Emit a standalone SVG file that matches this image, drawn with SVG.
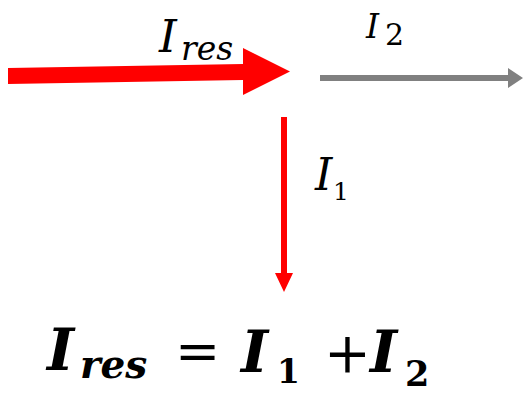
<svg xmlns="http://www.w3.org/2000/svg" width="524" height="394" viewBox="0 0 524 394">
<style>
.lbl{font-family:"DejaVu Serif","Liberation Serif",serif;font-style:italic;fill:#000}
.eq{font-family:"DejaVu Serif","Liberation Serif",serif;font-style:italic;font-weight:bold;fill:#000}
.op{font-family:"DejaVu Serif","Liberation Serif",serif;fill:#000}
.num{font-family:"DejaVu Serif","Liberation Serif",serif;fill:#000}
.numb{font-family:"DejaVu Serif","Liberation Serif",serif;font-weight:bold;fill:#000}
</style>
<rect width="524" height="394" fill="#fff"/>
<g id="connectors">
<polygon id="i-res-arrow" points="8,68 243,64 243,48 290,71.5 243,95 243,80 8,84" fill="#ff0000"/>
<polygon id="i2-arrow" points="320,75 508,75 508,68 523,78 508,88 508,81 320,81" fill="#808080"/>
<polygon id="i1-arrow" points="281,117 287,117 287,273 293,273 284,292 275,273 281,273" fill="#ff0000"/>
</g>
<g id="label-ires">
<text class="lbl" x="159" y="52" font-size="45">I</text>
<text class="lbl" x="181" y="60" font-size="33">res</text>
</g>
<g id="label-i2">
<text class="lbl" x="366" y="38" font-size="33">I</text>
<text class="num" x="385" y="45" font-size="30">2</text>
</g>
<g id="label-i1">
<text class="lbl" x="315" y="190" font-size="44">I</text>
<text class="num" x="333" y="200" font-size="25">1</text>
</g>
<g id="equation">
<text class="eq" x="47" y="370" font-size="58">I</text>
<text class="eq" x="80" y="378" font-size="39">res</text>
<text class="op" x="175" y="370" font-size="54">=</text>
<text class="eq" x="241" y="372" font-size="58">I</text>
<text class="numb" x="277" y="383" font-size="33">1</text>
<text class="op" x="324" y="372" font-size="56">+</text>
<text class="eq" x="370" y="372" font-size="58">I</text>
<text class="numb" x="405" y="386" font-size="35">2</text>
</g>
</svg>
